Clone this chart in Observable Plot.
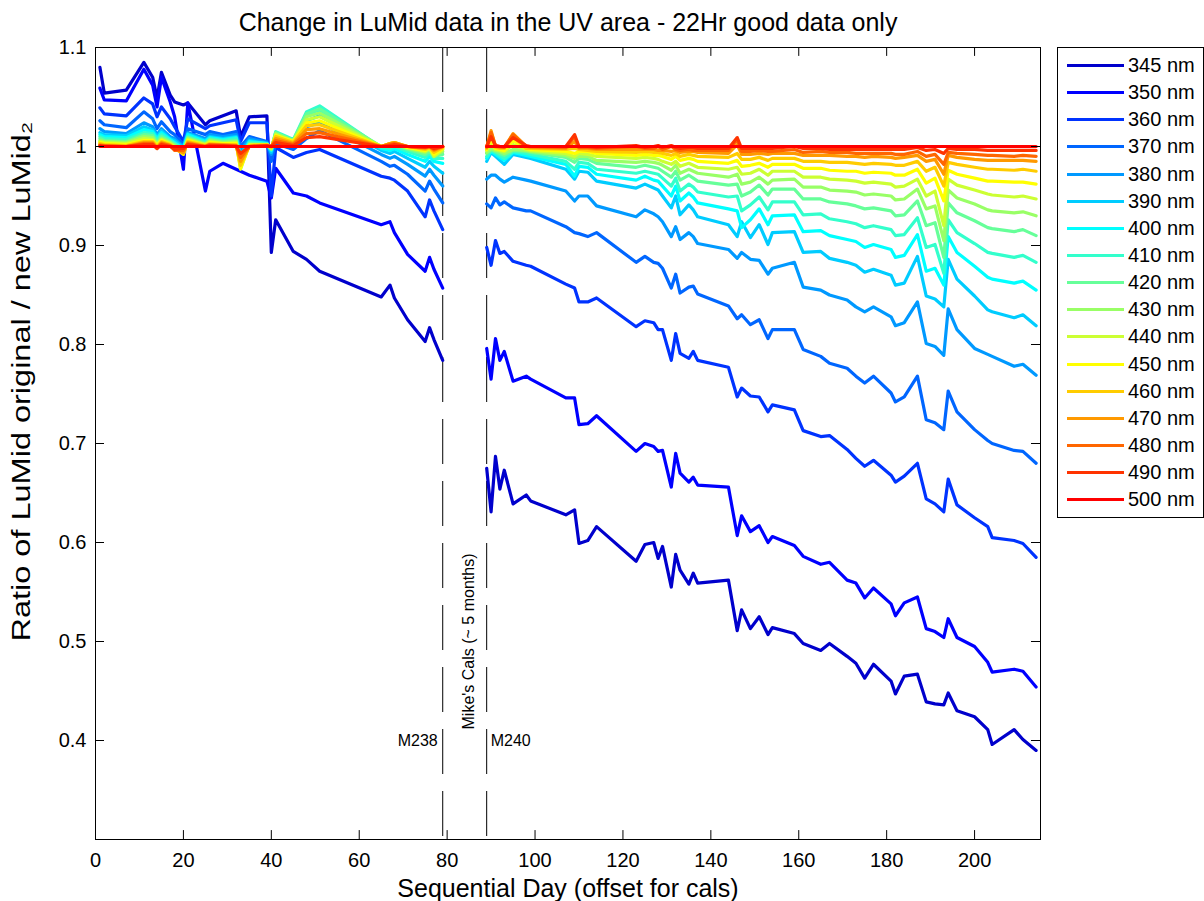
<!DOCTYPE html>
<html><head><meta charset="utf-8">
<script src="https://cdn.jsdelivr.net/npm/d3@7"></script>
<script src="https://cdn.jsdelivr.net/npm/@observablehq/plot@0.6"></script>
<style>
body{margin:0;background:#fff;font-family:"Liberation Sans",Arial,Helvetica,sans-serif;}
#wrap{position:relative;width:1204px;height:901px;overflow:hidden;background:#fff;}
#legend{position:absolute;left:1057px;top:47px;width:147px;border:1px solid #000;background:#fff;box-sizing:border-box;}
.lrow{position:absolute;left:0;height:27px;display:flex;align-items:center;}
.lrow span{font-size:20px;color:#000;margin-left:0;white-space:nowrap;}
</style></head><body><div id="wrap"></div>
<script>
// ---------------- data ----------------
const wavelengths = [345,350,360,370,380,390,400,410,420,430,440,450,460,470,480,490,500];
const seriesColors = ["#0000cc","#0000ff","#0033ff","#0066ff","#0099ff","#00ccff","#00ffff","#33ffcc","#66ff99","#99ff66","#ccff33","#ffff00","#ffcc00","#ff9900","#ff6600","#ff3300","#ff0000"];
const daysLeft  = [1,2,7,11,13,14,15,17,18,20,21,25,26,29,32,33,35,39,40,41,45,48,51,65,67,68,71,75,76,77,79];
const daysRight = [89,90,91,92,93,95,98,99,107,109,110,112,114,123,125,127,128,129,131,132,133,135,136,137,144,146,147,149,151,153,154,159,161,165,167,171,173,175,177,181,182,184,187,189,191,193,194,196,200,203,204,209,211,214];
const xTicks = [0,20,40,60,80,100,120,140,160,180,200];
const yTicks = [0.4,0.5,0.6,0.7,0.8,0.9,1,1.1];
const calDays = [79,89];

const l345 = [1.080,1.054,1.057,1.085,1.070,1.049,1.075,1.052,1.045,1.042,1.044,1.022,1.026,1.031,1.036,1.010,1.030,1.031,0.893,0.926,0.894,0.886,0.874,0.848,0.860,0.847,0.825,0.803,0.817,0.805,0.784];
const l350 = [1.059,1.047,1.046,1.078,1.062,1.040,1.070,1.045,1.030,0.977,1.044,0.955,0.975,0.983,0.977,0.975,0.971,0.965,0.948,0.978,0.953,0.950,0.943,0.921,0.924,0.913,0.891,0.874,0.888,0.876,0.857];
const l360 = [1.039,1.033,1.031,1.049,1.043,1.030,1.040,1.028,1.020,1.005,1.028,1.018,1.021,1.024,1.027,1.005,1.024,1.024,0.950,0.999,0.989,0.994,0.997,0.970,0.968,0.966,0.955,0.929,0.946,0.935,0.916];
const l370 = [1.026,1.022,1.019,1.035,1.028,1.018,1.025,1.015,1.012,1.002,1.018,1.012,1.015,1.012,1.015,1.000,1.010,1.005,0.985,1.003,0.997,1.008,1.016,0.985,0.980,0.981,0.972,0.955,0.965,0.957,0.943];
const l380 = [1.018,1.015,1.013,1.024,1.020,1.012,1.018,1.010,1.008,1.000,1.014,1.008,1.012,1.010,1.012,0.996,1.008,1.004,0.992,1.010,1.003,1.020,1.024,0.992,0.988,0.990,0.982,0.970,0.977,0.971,0.960];
const l390 = [1.014,1.012,1.011,1.020,1.017,1.010,1.016,1.008,1.006,0.999,1.013,1.006,1.010,1.008,1.010,0.992,1.006,1.003,0.994,1.012,1.005,1.026,1.031,0.996,0.993,0.995,0.988,0.979,0.985,0.980,0.973];
const l400 = [1.012,1.010,1.009,1.017,1.015,1.008,1.014,1.007,1.004,0.998,1.012,1.005,1.009,1.007,1.009,0.988,1.005,1.003,0.996,1.014,1.006,1.032,1.037,0.998,0.996,0.998,0.992,0.985,0.990,0.985,0.983];
const l410 = [1.010,1.008,1.007,1.014,1.013,1.006,1.012,1.006,1.003,0.997,1.010,1.004,1.008,1.006,1.008,0.985,1.004,1.003,0.997,1.015,1.007,1.035,1.041,0.999,0.998,1.000,0.995,0.989,0.993,0.988,0.988];
const l420 = [1.008,1.006,1.005,1.012,1.011,1.004,1.010,1.005,1.002,0.995,1.009,1.003,1.007,1.005,1.006,0.982,1.003,1.002,0.997,1.014,1.006,1.033,1.038,1.000,1.000,1.002,0.997,0.992,0.995,0.990,0.992];
const l430 = [1.006,1.005,1.004,1.010,1.009,1.003,1.008,1.004,1.001,0.994,1.008,1.002,1.006,1.004,1.005,0.979,1.002,1.002,0.998,1.013,1.006,1.030,1.034,1.000,1.001,1.003,0.998,0.994,0.997,0.991,0.995];
const l440 = [1.005,1.004,1.003,1.008,1.007,1.002,1.007,1.003,1.000,0.993,1.007,1.002,1.005,1.003,1.004,0.977,1.002,1.002,0.998,1.012,1.005,1.027,1.030,1.000,1.002,1.004,0.999,0.995,0.998,0.990,0.997];
const l450 = [1.004,1.003,1.002,1.006,1.006,1.001,1.006,1.002,0.999,0.992,1.006,1.001,1.004,1.003,1.003,0.978,1.001,1.002,0.999,1.011,1.005,1.024,1.026,1.000,1.003,1.004,0.999,0.996,0.999,0.992,0.998];
const l460 = [1.003,1.002,1.001,1.005,1.005,1.000,1.005,1.002,0.998,0.993,1.005,1.001,1.003,1.002,1.002,0.981,1.001,1.002,0.999,1.010,1.004,1.021,1.022,1.000,1.003,1.004,1.000,0.997,0.999,0.994,0.999];
const l470 = [1.002,1.001,1.000,1.004,1.004,0.999,1.004,1.001,0.997,0.994,1.004,1.000,1.002,1.002,1.001,0.985,1.000,1.001,1.000,1.008,1.003,1.017,1.018,1.000,1.003,1.004,1.000,0.998,1.000,0.996,1.000];
const l480 = [1.001,1.001,1.000,1.003,1.003,0.998,1.003,1.001,0.996,0.996,1.003,1.000,1.002,1.001,1.001,0.989,1.000,1.001,1.000,1.006,1.002,1.013,1.014,1.000,1.002,1.003,1.000,0.999,1.000,0.997,1.000];
const l490 = [1.001,1.000,1.000,1.002,1.002,0.998,1.002,1.000,0.997,0.998,1.002,1.000,1.001,1.001,1.000,0.993,1.000,1.001,1.000,1.004,1.001,1.009,1.010,1.000,1.001,1.002,1.000,0.999,1.000,0.998,1.000];
const l500 = [1,1,1,1,1,1,1,1,1,1,1,1,1,1,1,1,1,1,1,1,1,1,1,1,1,1,1,1,1,1,1];

const r345 = [.675,.631,.687,.654,.673,.639,.648,.642,.628,.633,.599,.602,.616,.581,.598,.600,.584,.596,.555,.588,.572,.558,.569,.559,.562,.511,.532,.513,.525,.507,.514,.508,.498,.491,.498,.485,.478,.463,.477,.460,.447,.465,.467,.439,.437,.436,.448,.430,.424,.411,.396,.411,.401,.390];
const r350 = [.796,.765,.806,.784,.793,.763,.768,.765,.746,.746,.719,.720,.728,.692,.700,.697,.692,.693,.656,.690,.670,.661,.666,.658,.656,.607,.627,.611,.617,.600,.606,.597,.586,.578,.580,.562,.559,.544,.554,.538,.526,.539,.545,.513,.510,.504,.523,.504,.495,.479,.469,.472,.470,.454];
const r360 = [.898,.880,.905,.892,.894,.884,.880,.879,.861,.857,.843,.843,.847,.818,.824,.822,.815,.815,.784,.811,.791,.786,.793,.784,.777,.747,.756,.748,.747,.732,.739,.734,.713,.707,.708,.694,.685,.677,.683,.668,.661,.667,.680,.644,.639,.631,.664,.638,.625,.616,.605,.602,.599,.585];
const r370 = [.942,.938,.948,.941,.944,.938,.935,.935,.919,.913,.912,.909,.913,.883,.889,.883,.882,.877,.857,.871,.852,.858,.859,.851,.839,.826,.830,.820,.825,.806,.815,.815,.795,.788,.781,.776,.768,.761,.768,.751,.742,.747,.768,.724,.721,.714,.753,.732,.714,.703,.700,.693,.692,.680];
const r380 = [.967,.971,.971,.967,.964,.969,.966,.965,.955,.945,.950,.950,.940,.929,.936,.932,.929,.924,.909,.919,.906,.913,.909,.902,.896,.887,.893,.886,.885,.871,.877,.883,.858,.855,.850,.845,.838,.833,.838,.828,.819,.822,.843,.801,.798,.789,.836,.815,.796,.790,.788,.778,.780,.769];
const r390 = [.985,.994,.990,.986,.982,.992,.989,.988,.977,.967,.975,.974,.965,.958,.962,.958,.956,.950,.938,.950,.931,.941,.936,.929,.921,.909,.924,.908,.921,.901,.913,.914,.893,.894,.887,.883,.880,.873,.876,.870,.860,.862,.889,.849,.846,.838,.886,.866,.849,.835,.833,.827,.830,.819];
const r400 = [.988,.995,.992,.989,.986,.994,.991,.990,.982,.970,.980,.979,.972,.966,.970,.966,.965,.960,.950,.960,.945,.953,.949,.943,.937,.935,.918,.926,.937,.921,.930,.931,.914,.915,.910,.906,.904,.898,.901,.896,.888,.890,.911,.874,.877,.860,.909,.893,.879,.868,.866,.862,.864,.855];
const r410 = [.990,.996,.994,.991,.988,.995,.993,.992,.985,.977,.984,.983,.977,.973,.975,.973,.972,.968,.960,.968,.955,.962,.959,.954,.949,.950,.935,.941,.949,.936,.944,.944,.931,.932,.927,.924,.922,.918,.920,.916,.910,.911,.928,.898,.901,.872,.926,.913,.902,.893,.892,.888,.890,.883];
const r420 = [.993,.997,.995,.993,.991,.996,.995,.994,.989,.984,.988,.987,.983,.979,.981,.979,.978,.975,.969,.975,.966,.971,.968,.965,.961,.962,.950,.954,.961,.951,.957,.957,.947,.947,.944,.942,.940,.937,.938,.935,.930,.931,.945,.920,.923,.888,.943,.933,.925,.918,.917,.914,.916,.910];
const r430 = [.994,.998,.996,.995,.993,.997,.996,.995,.991,.988,.990,.990,.986,.984,.985,.984,.983,.981,.976,.981,.973,.977,.975,.973,.969,.972,.962,.964,.969,.962,.966,.967,.959,.959,.956,.955,.954,.951,.952,.950,.946,.947,.957,.937,.940,.905,.956,.948,.942,.936,.935,.933,.934,.930];
const r440 = [.996,1.003,.997,.996,.995,1.002,.997,.996,.993,.990,.993,.992,.990,.988,.989,.988,.987,.985,.982,.985,.980,.983,.981,.979,.977,.979,.972,.973,.977,.971,.975,.975,.969,.969,.967,.966,.965,.963,.964,.962,.959,.960,.967,.950,.955,.920,.967,.961,.956,.952,.951,.949,.950,.947];
const r450 = [.997,1.008,.998,.997,.996,1.006,.998,.997,.995,.993,.995,.995,.993,.991,.992,.991,.991,.990,.987,.990,.986,.988,.987,.985,.983,.986,.980,.981,.983,.979,.982,.982,.978,.978,.976,.975,.975,.973,.974,.973,.971,.971,.977,.963,.968,.945,.976,.972,.968,.965,.965,.964,.964,.962];
const r460 = [.998,1.013,.999,.998,.998,1.010,.998,.998,.997,.998,.997,.996,.995,.994,.995,.994,.994,.993,.991,.993,.990,.992,.991,.990,.989,.993,.987,.987,.989,.986,.988,.988,.985,.985,.984,.984,.983,.982,.983,.982,.981,.981,.985,.975,.979,.960,.984,.982,.979,.977,.977,.976,.977,.975];
const r470 = [.999,1.016,1.000,.999,.999,1.013,1.000,.999,.998,1.005,.998,.998,.997,.997,.997,.997,.996,.996,.995,.996,.994,.995,.995,.994,.993,1.002,.992,.992,.993,.992,.993,.993,.991,.991,.991,.990,.990,.989,.990,.989,.988,.989,.991,.985,.987,.972,.991,.989,.987,.986,.986,.986,.986,.985];
const r480 = [1.000,1.014,1.001,1.000,.999,1.012,1.000,1.000,.999,1.010,.999,.999,.998,1.000,.998,.998,1.000,.997,1.000,.997,.996,.997,.996,.996,.996,1.007,.995,.995,.996,.995,.995,.997,.994,.995,.994,.994,.993,.993,.993,.993,.992,.992,.995,.990,.992,.982,.994,.993,.992,.991,.991,.990,.991,.990];
const r490 = [1.000,1.010,1.001,1.000,1.000,1.009,1.001,1.000,1.000,1.012,1.000,1.000,.999,1.001,.999,1.000,1.001,.999,1.001,.999,.998,.999,.999,.998,.998,1.009,.998,.998,.998,.998,.998,1.000,.998,.998,.997,.997,.997,.997,.997,.997,.997,.997,.999,.996,.997,.993,.998,.997,.997,.996,.996,.996,.996,.996];
const r500 = [1,1,1,1,1,1,1,1,1,1,1,1,1,1,1,1,1,1,1,1,1,1,1,1,1,1,1,1,1,1,1,1,1,1,1,1,1,1,1,1,1,1,1,1,1,1,1,1,1,1,1,1,1,1];

const leftSeries  = [l345,l350,l360,l370,l380,l390,l400,l410,l420,l430,l440,l450,l460,l470,l480,l490,l500];
const rightSeries = [r345,r350,r360,r370,r380,r390,r400,r410,r420,r430,r440,r450,r460,r470,r480,r490,r500];

const titleText = "Change in LuMid data in the UV area - 22Hr good data only";
const xLabelText = "Sequential Day (offset for cals)";
const yLabelText = "Ratio of LuMid original / new LuMid\u2082";
const calLabels = ["M238", "M240"];
const gapNote = "Mike's Cals (~ 5 months)";

// ---------------- build rows ----------------
const rows = [];
wavelengths.forEach((w, i) => {
  daysLeft.forEach((d, j) => rows.push({w, key: w + "L", day: d, v: leftSeries[i][j]}));
  daysRight.forEach((d, j) => rows.push({w, key: w + "R", day: d, v: rightSeries[i][j]}));
});

const fmtY = d => String(+d.toFixed(1));

const chart = Plot.plot({
  width: 1204, height: 901,
  marginLeft: 95, marginRight: 164, marginTop: 47, marginBottom: 62,
  style: {fontFamily: "'Liberation Sans', Arial, Helvetica, sans-serif", fontSize: "20px", background: "white", color: "black"},
  x: {domain: [0, 215]},
  y: {domain: [0.3, 1.1]},
  color: {type: "ordinal", domain: wavelengths, range: seriesColors},
  marks: [
    Plot.ruleX(calDays, {stroke: "black", strokeWidth: 1, strokeDasharray: "45,17"}),
    Plot.line(rows, {x: "day", y: "v", z: "key", stroke: "w", strokeWidth: 3.2, strokeLinejoin: "round"}),
    Plot.frame({stroke: "black", strokeWidth: 1}),
    Plot.ruleY(yTicks, {x1: 0, x2: 2.05, stroke: "black"}),
    Plot.ruleY(yTicks, {x1: 212.95, x2: 215, stroke: "black"}),
    Plot.ruleX(xTicks, {y1: 0.3, y2: 0.309, stroke: "black"}),
    Plot.ruleX(xTicks, {y1: 1.091, y2: 1.1, stroke: "black"}),
    Plot.axisX({ticks: xTicks, tickSize: 0, tickPadding: 13, label: null, fontSize: 20}),
    Plot.axisY({ticks: yTicks, tickSize: 0, tickPadding: 9, label: null, tickFormat: fmtY, fontSize: 20}),
    Plot.text([calLabels[0]], {x: calDays[0], y: 0.4, text: d => d, textAnchor: "end", dx: -5, fontSize: 16, fill: "black"}),
    Plot.text([calLabels[1]], {x: calDays[1], y: 0.4, text: d => d, textAnchor: "start", dx: 4, fontSize: 16, fill: "black"}),
    Plot.text([gapNote], {x: 84.9, y: 0.5, text: d => d, rotate: -90, fontSize: 16, fill: "black"}),
    Plot.text([titleText], {text: d => d, frameAnchor: "top", lineAnchor: "middle", dy: -25, fontSize: 25, fill: "black"}),
    Plot.text([xLabelText], {text: d => d, frameAnchor: "bottom", lineAnchor: "middle", dy: 49, fontSize: 25, fill: "black"}),
    Plot.text([yLabelText], {text: d => d, frameAnchor: "left", textAnchor: "middle", dx: -74, dy: -62, rotate: -90, fontSize: 26, fill: "black"})
  ]
});

const wrap = document.getElementById("wrap");
wrap.appendChild(chart);

// widen the y label to the reference's span
chart.querySelectorAll("text").forEach(t => {
  if (t.textContent === yLabelText) {
    t.setAttribute("textLength", 520);
    t.setAttribute("lengthAdjust", "spacingAndGlyphs");
  }
});

// legend
const legend = document.createElement("div");
legend.id = "legend";
const rowH = 27.14;
legend.style.height = (wavelengths.length * rowH + 10) + "px";
wavelengths.forEach((w, i) => {
  const r = document.createElement("div");
  r.className = "lrow";
  r.style.top = (4 + i * rowH) + "px";
  r.innerHTML = `<svg width="70" height="27"><line x1="9" x2="66" y1="13.5" y2="13.5" stroke="${seriesColors[i]}" stroke-width="3.2"/></svg><span>${w} nm</span>`;
  legend.appendChild(r);
});
wrap.appendChild(legend);
</script>
</body></html>
